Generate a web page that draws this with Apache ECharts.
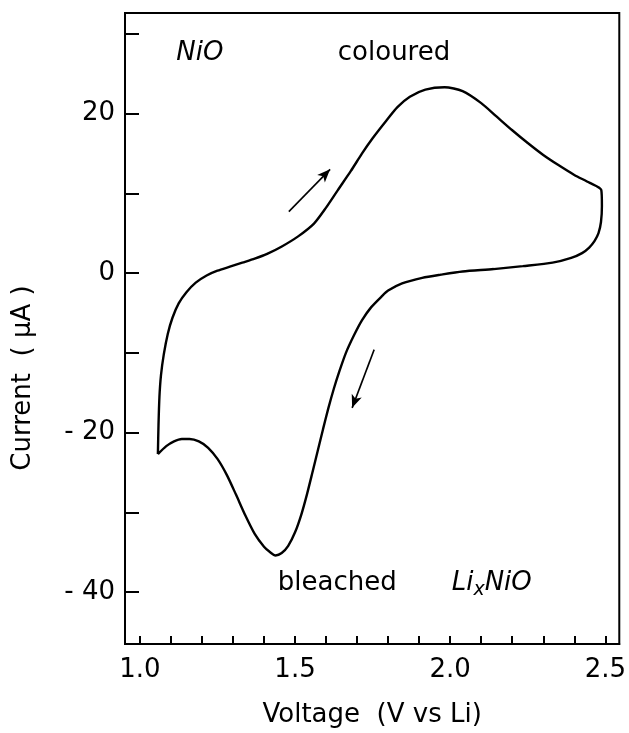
<!DOCTYPE html>
<html>
<head>
<meta charset="utf-8">
<script src="https://cdn.jsdelivr.net/npm/echarts@6/dist/echarts.min.js"></script>
<style>
  html, body { margin: 0; padding: 0; background: #fff; }
  #chart { width: 629px; height: 733px; }
</style>
</head>
<body>
<div id="chart"></div>
<script>
// Cyclic voltammogram of NiO (V vs Li, current in uA)
// anodic sweep first (upper branch), then back along the lower branch
const voltage = [
  1.058, 1.060, 1.063, 1.068, 1.077, 1.09, 1.105, 1.125, 1.15, 1.18,
  1.215, 1.25, 1.29, 1.33, 1.37, 1.41, 1.456, 1.51, 1.561, 1.60,
  1.638, 1.68, 1.716, 1.75, 1.794, 1.83, 1.87, 1.92, 1.982, 2.04,
  2.10, 2.15, 2.20, 2.25, 2.30, 2.35, 2.40, 2.45, 2.487,
  2.489, 2.486, 2.478, 2.465, 2.448, 2.425, 2.39, 2.33, 2.234, 2.14,
  2.04, 1.97, 1.91, 1.845, 1.80, 1.78, 1.745, 1.716, 1.69, 1.664,
  1.643, 1.625, 1.607, 1.59, 1.573, 1.556, 1.538, 1.52, 1.50, 1.478,
  1.457, 1.437, 1.42, 1.40, 1.37, 1.34, 1.31, 1.28, 1.25, 1.22,
  1.19, 1.16, 1.135, 1.11, 1.085, 1.058
]
const current = [
  -22.7, -19.0, -15.5, -12.8, -10.2, -7.6, -5.6, -3.8, -2.4, -1.2,
  -0.3, 0.3, 0.8, 1.3, 1.8, 2.4, 3.3, 4.6, 6.2, 8.2,
  10.4, 12.8, 15.0, 16.9, 19.1, 20.8, 22.1, 23.0, 23.3, 22.8,
  21.3, 19.6, 17.9, 16.3, 14.8, 13.5, 12.3, 11.3, 10.4,
  8.4, 6.4, 5.0, 4.0, 3.2, 2.5, 1.9, 1.3, 0.87, 0.5,
  0.2, -0.2, -0.6, -1.3, -2.2, -2.9, -4.3, -5.9, -7.8, -10.0,
  -12.3, -14.5, -17.0, -19.6, -22.3, -25.0, -27.8, -30.3, -32.5, -34.2,
  -35.1, -35.4, -35.0, -34.3, -32.7, -30.4, -27.8, -25.3, -23.3, -21.9,
  -21.1, -20.8, -20.8, -21.1, -21.7, -22.7
]

// scan direction arrows [from, to]
const arrowUp = [[1.48, 7.7], [1.613, 13.0]]
const arrowDown = [[1.755, -9.6], [1.684, -16.9]]

// tick positions and labels
const xTicks = [1.0, 1.1, 1.2, 1.3, 1.4, 1.5, 1.6, 1.7, 1.8, 1.9, 2.0, 2.1, 2.2, 2.3, 2.4, 2.5]
const xLabels = [1.0, 1.5, 2.0, 2.5]
const yTicks = [-40, -30, -20, -10, 0, 10, 20, 30]
const yLabels = [-40, -20, 0, 20]

// annotations: [x, y, text]
const notes = [
  [1.193, 27.6, '{i|NiO}'],
  [1.819, 27.6, 'coloured'],
  [1.636, -38.9, 'bleached'],
  [2.134, -38.9, '{i|Li}{s|x}{i|NiO}']
]

const FONT = 'DejaVu Sans'
const SIZE = 26

const chart = echarts.init(document.getElementById('chart'))

const options = {
  animation: false,
  backgroundColor: '#fff',
  grid: {
    left: 125,
    right: 8,
    top: 13,
    bottom: 85,
    show: true,
    borderColor: '#000',
    borderWidth: 2
  },
  xAxis: {
    type: 'value',
    min: 0.952,
    max: 2.545,
    name: 'Voltage  (V vs Li)',
    nameLocation: 'middle',
    nameGap: 58,
    nameTextStyle: { fontFamily: FONT, fontSize: SIZE, color: '#000' },
    splitLine: { show: false },
    axisLine: { show: true, onZero: false, lineStyle: { color: '#000', width: 2 } },
    axisTick: {
      show: true,
      inside: true,
      length: 8,
      customValues: xTicks,
      lineStyle: { color: '#000', width: 2 }
    },
    axisLabel: {
      customValues: xLabels,
      margin: 13,
      fontFamily: FONT,
      fontSize: SIZE,
      color: '#000',
      formatter: v => v.toFixed(1)
    }
  },
  yAxis: {
    type: 'value',
    min: -46.5,
    max: 32.6,
    splitLine: { show: false },
    axisLine: { show: true, onZero: false, lineStyle: { color: '#000', width: 2 } },
    axisTick: {
      show: true,
      inside: true,
      length: 14,
      customValues: yTicks,
      lineStyle: { color: '#000', width: 2 }
    },
    axisLabel: {
      customValues: yLabels,
      margin: 10,
      fontFamily: FONT,
      fontSize: SIZE,
      color: '#000',
      formatter: v => (v < 0 ? '- ' + (-v) : String(v))
    }
  },
  graphic: [
    {
      type: 'text',
      x: 23,
      y: 378,
      rotation: Math.PI / 2,
      style: {
        text: 'Current  ( \u03bcA )',
        fontFamily: FONT,
        fontSize: SIZE,
        fill: '#000',
        align: 'center',
        verticalAlign: 'middle'
      }
    }
  ],
  series: [
    {
      name: 'CV',
      type: 'line',
      data: voltage.map((v, i) => [v, current[i]]),
      showSymbol: false,
      smooth: 0.25,
      lineStyle: { color: '#000', width: 2.4 },
      markLine: {
        silent: true,
        symbol: ['none', 'arrow'],
        symbolSize: [8, 13],
        label: { show: false },
        lineStyle: { color: '#000', width: 1.6, type: 'solid' },
        data: [
          [{ coord: arrowUp[0] }, { coord: arrowUp[1] }],
          [{ coord: arrowDown[0] }, { coord: arrowDown[1] }]
        ]
      }
    },
    {
      name: 'notes',
      type: 'scatter',
      data: notes.map(n => [n[0], n[1], n[2]]),
      symbolSize: 0,
      itemStyle: { color: '#000' },
      silent: true,
      label: {
        show: true,
        position: 'inside',
        color: '#000',
        opacity: 1,
        textBorderWidth: 0,
        fontFamily: FONT,
        fontSize: SIZE,
        formatter: p => p.data[2],
        rich: {
          i: { fontFamily: FONT, fontSize: SIZE, fontStyle: 'italic', color: '#000' },
          s: { fontFamily: FONT, fontSize: 19, fontStyle: 'italic', color: '#000', padding: [14, 0, 0, 0] }
        }
      }
    }
  ]
}

chart.setOption(options)
</script>
</body>
</html>
